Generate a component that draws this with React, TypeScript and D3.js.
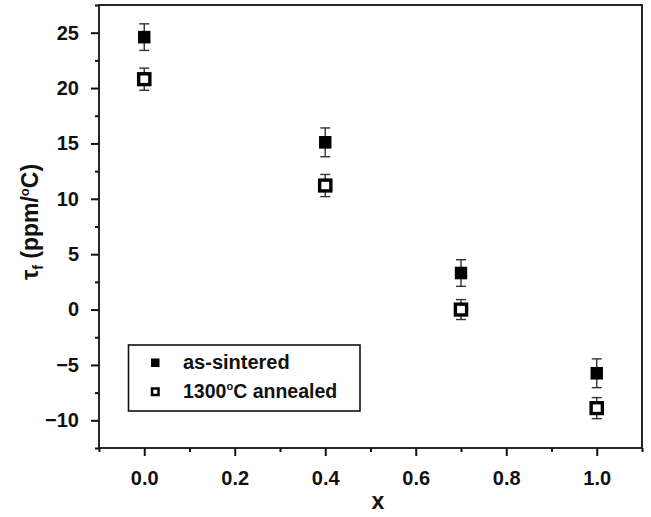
import React, { useEffect, useRef } from 'react'
import * as d3 from 'd3'

// values
const xValues = [0.0, 0.4, 0.7, 1.0]
const asSintered = [24.6, 15.1, 3.3, -5.75]
const asSinteredErr = [1.2, 1.3, 1.2, 1.3]
const annealed = [20.8, 11.2, 0.0, -8.9]
const annealedErr = [1.0, 1.0, 0.9, 0.95]

const xTicks = [0.0, 0.2, 0.4, 0.6, 0.8, 1.0]
const xMinor = [-0.1, 0.1, 0.3, 0.5, 0.7, 0.9, 1.1]
const yTicks = [-10, -5, 0, 5, 10, 15, 20, 25]
const yMinor = [-12.5, -7.5, -2.5, 2.5, 7.5, 12.5, 17.5, 22.5, 27.5]

const FONT = '"Liberation Sans", Arial, Helvetica, sans-serif'

const App = () => {
  const ref = useRef<SVGSVGElement>(null)

  useEffect(() => {
    if (!ref.current) return
    const svg = d3.select(ref.current)
    svg.selectAll('*').remove()

    const left = 99
    const right = 642
    const top = 5
    const bottom = 448

    const x = d3.scaleLinear().domain([-0.1, 1.1]).range([left, right])
    const y = d3.scaleLinear().domain([-12.5, 27.5]).range([bottom, top])

    // frame
    svg.append('rect')
      .attr('x', left).attr('y', top)
      .attr('width', right - left).attr('height', bottom - top)
      .attr('fill', 'none').attr('stroke', '#111').attr('stroke-width', 1.8)

    // x axis
    const gx = svg.append('g').attr('transform', `translate(0,${bottom})`)
    gx.call(d3.axisBottom(x).tickValues(xTicks).tickSize(8).tickPadding(15).tickFormat(d3.format('.1f')))
    gx.append('g').call(d3.axisBottom(x).tickValues(xMinor).tickSize(4).tickFormat(() => ''))
    gx.selectAll('.domain').remove()
    gx.selectAll('line').attr('stroke', '#111').attr('stroke-width', 2)
    gx.selectAll('text')
      .attr('fill', '#111')
      .style('font-family', FONT).style('font-weight', 'bold').style('font-size', '20px')

    // y axis
    const gy = svg.append('g').attr('transform', `translate(${left},0)`)
    gy.call(d3.axisLeft(y).tickValues(yTicks).tickSize(8).tickPadding(12).tickFormat(d => String(d).replace('-', '\u2212')))
    gy.append('g').call(d3.axisLeft(y).tickValues(yMinor).tickSize(4).tickFormat(() => ''))
    gy.selectAll('.domain').remove()
    gy.selectAll('line').attr('stroke', '#111').attr('stroke-width', 2)
    gy.selectAll('text')
      .attr('fill', '#111')
      .style('font-family', FONT).style('font-weight', 'bold').style('font-size', '20px')

    // axis titles
    svg.append('text')
      .attr('x', 378).attr('y', 509)
      .attr('text-anchor', 'middle')
      .style('font-family', FONT).style('font-weight', 'bold').style('font-size', '23px')
      .attr('fill', '#111')
      .text('x')

    const yl = svg.append('text')
      .attr('transform', 'translate(38,222) rotate(-90)')
      .attr('text-anchor', 'middle')
      .style('font-family', FONT).style('font-weight', 'bold').style('font-size', '23px')
      .attr('fill', '#111')
    yl.append('tspan').text('\u03c4')
    yl.append('tspan').attr('dy', 5).style('font-size', '14px').text('f')
    yl.append('tspan').attr('dy', -5).text(' (ppm/')
    yl.append('tspan').attr('dy', -9).style('font-size', '13px').text('o')
    yl.append('tspan').attr('dy', 9).text('C)')

    const series = [
      { vals: asSintered, errs: asSinteredErr, filled: true },
      { vals: annealed, errs: annealedErr, filled: false },
    ]

    series.forEach(s => {
      const g = svg.append('g')
      const pts = xValues.map((xv, i) => ({ xv, v: s.vals[i], e: s.errs[i] }))

      // error bars
      g.selectAll('.eb').data(pts).enter().append('line')
        .attr('x1', d => x(d.xv)).attr('x2', d => x(d.xv))
        .attr('y1', d => y(d.v + d.e)).attr('y2', d => y(d.v - d.e))
        .attr('stroke', '#333').attr('stroke-width', 1.4)
      g.selectAll('.capT').data(pts).enter().append('line')
        .attr('x1', d => x(d.xv) - 5).attr('x2', d => x(d.xv) + 5)
        .attr('y1', d => y(d.v + d.e)).attr('y2', d => y(d.v + d.e))
        .attr('stroke', '#333').attr('stroke-width', 1.4)
      g.selectAll('.capB').data(pts).enter().append('line')
        .attr('x1', d => x(d.xv) - 5).attr('x2', d => x(d.xv) + 5)
        .attr('y1', d => y(d.v - d.e)).attr('y2', d => y(d.v - d.e))
        .attr('stroke', '#333').attr('stroke-width', 1.4)

      // markers
      if (s.filled) {
        g.selectAll('.m').data(pts).enter().append('rect')
          .attr('x', d => x(d.xv) - 6.2).attr('y', d => y(d.v) - 6.3)
          .attr('width', 12.4).attr('height', 12.6)
          .attr('fill', '#000')
      } else {
        g.selectAll('.m').data(pts).enter().append('rect')
          .attr('x', d => x(d.xv) - 5.6).attr('y', d => y(d.v) - 5.4)
          .attr('width', 11.2).attr('height', 10.8)
          .attr('fill', '#fff').attr('stroke', '#000').attr('stroke-width', 3.4)
      }
    })

    // legend
    const lg = svg.append('g')
    lg.append('rect')
      .attr('x', 128.5).attr('y', 345)
      .attr('width', 231.5).attr('height', 66)
      .attr('fill', '#fff').attr('stroke', '#111').attr('stroke-width', 1.6)
    lg.append('rect').attr('x', 151).attr('y', 358.5).attr('width', 8.5).attr('height', 8.5).attr('fill', '#000')
    lg.append('rect').attr('x', 152).attr('y', 388.5).attr('width', 6.5).attr('height', 6.5)
      .attr('fill', '#fff').attr('stroke', '#000').attr('stroke-width', 2.5)
    lg.append('text')
      .attr('x', 183).attr('y', 369)
      .style('font-family', FONT).style('font-weight', 'bold').style('font-size', '20px')
      .attr('fill', '#111')
      .text('as-sintered')
    const t2 = lg.append('text')
      .attr('x', 183).attr('y', 398)
      .style('font-family', FONT).style('font-weight', 'bold').style('font-size', '19.5px')
      .attr('fill', '#111')
    t2.append('tspan').text('1300')
    t2.append('tspan').attr('dy', -8).style('font-size', '11px').text('o')
    t2.append('tspan').attr('dy', 8).text('C annealed')
  }, [])

  return (
    <svg
      ref={ref}
      width={651}
      height={517}
      style={{ position: 'absolute', left: 0, top: 0, background: '#fff' }}
    />
  )
}

export default App
